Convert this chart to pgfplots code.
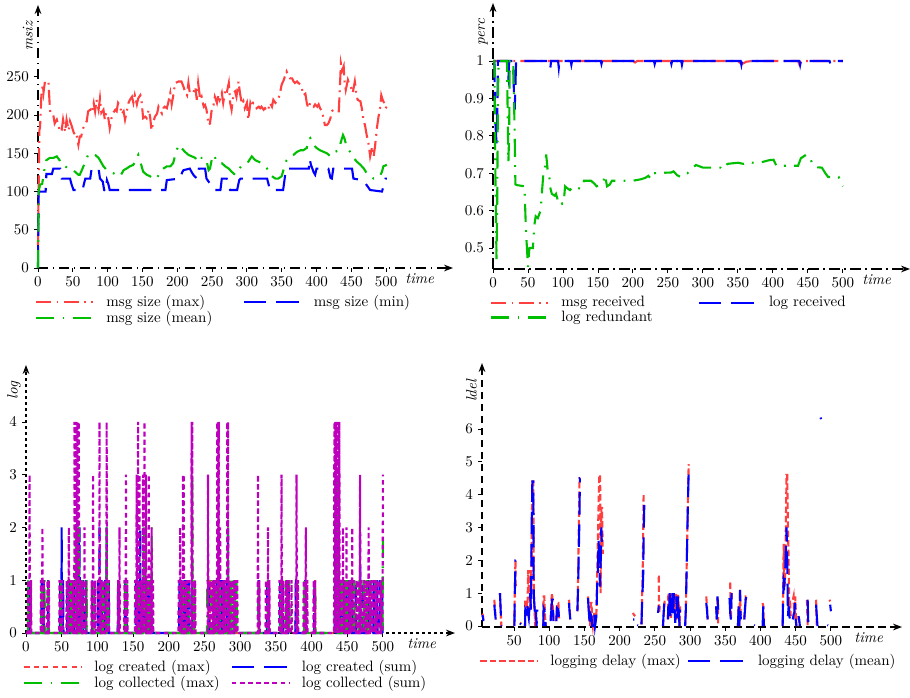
\documentclass[border=0pt]{standalone}
\usepackage{pgfplots}
\pgfplotsset{compat=1.18}
\usetikzlibrary{arrows.meta}

\definecolor{cR}{RGB}{255,64,64}
\definecolor{cG}{RGB}{0,190,0}
\definecolor{cB}{RGB}{0,0,255}
\definecolor{cM}{RGB}{190,0,190}

\pgfplotsset{
  panel/.style={
    scale only axis, axis lines=left, enlargelimits=false, clip=false,
    tick align=outside, major tick length=2.5pt,
    tick style={black, line width=0.6pt, solid},
    xlabel={\textit{time}},
    every axis x label/.style={at={(axis description cs:1,0)}, anchor=north east, xshift=-9pt},
    every axis y label/.style={at={(axis description cs:0,0.96)}, rotate=90, anchor=south east},
    legend columns=2, legend cell align=left,
    legend image code/.code={\draw[#1] (0pt,0pt) -- (38pt,0pt);},
    legend style={at={(axis description cs:0,0)}, anchor=north west, xshift=-2pt, yshift=-17.5pt,
      draw=none, fill=none, inner sep=0pt, row sep=0.5pt,
      nodes={inner xsep=2pt, inner ysep=0.5pt},
      /tikz/every odd column/.append style={column sep=6pt},
      /tikz/every even column/.append style={column sep=0pt}},
  },
  lw/.style={line width=1.4pt},
  sR/.style={cR, lw, dash pattern=on 10pt off 3.5pt on 1.2pt off 3.5pt},
  sB/.style={cB, lw, dash pattern=on 15pt off 6.5pt},
  sG/.style={cG, lw, dash pattern=on 12pt off 5.5pt on 1.2pt off 5.5pt},
  sRd/.style={cR, lw, dash pattern=on 3.5pt off 2.8pt},
  sM/.style={cM, lw, dash pattern=on 3pt off 2.4pt},
  sRe/.style={cR, lw, dash pattern=on 4.3pt off 2pt},
}

\begin{document}
\begin{tikzpicture}
\useasboundingbox (0pt,0pt) rectangle (606.67pt,-465.33pt);

% ---------------- top left: message size
\begin{axis}[panel,
  at={(25.33pt,-178.67pt)}, anchor=south west,
  width=276.67pt, height=175.33pt,
  xmin=0, xmax=596, ymin=0, ymax=344,
  xtick={0,50,...,500}, ytick={0,50,...,250},
  axis line style={line width=0.9pt, dash pattern=on 7pt off 3pt on 1pt off 3pt, -{Stealth[length=6pt,width=4.5pt]}},
  ylabel={\textit{msiz}},
]
\addplot[sR] coordinates {
(0,30)(1,110)(2,180)(3,185)(5,229)(7,240)(8,230)(10,244)(13,244)(15,244)(17,210)(18,202)(22,200)(24,189)(27,194)(29,187)(32,178)(34,180)(36,194)(39,178)(41,194)(44,180)(46,192)(48,187)(51,178)(53,174)(55,176)(58,161)(60,172)(62,172)(65,183)(67,187)(70,192)(72,205)(75,207)(77,203)(80,216)(82,205)(84,220)(87,207)(89,222)(91,203)(94,207)(96,194)(98,203)(101,196)(103,183)(106,198)(108,203)(111,207)(113,205)(115,216)(118,212)(120,201)(123,205)(125,194)(128,207)(130,216)(132,220)(135,224)(137,216)(139,226)(142,214)(144,222)(147,226)(149,216)(151,196)(154,198)(156,196)(159,207)(161,198)(163,180)(166,192)(168,198)(171,202)(173,211)(175,207)(178,202)(180,209)(182,211)(185,209)(187,216)(190,229)(192,214)(194,224)(197,242)(202,244)(206,244)(209,237)(211,231)(214,226)(216,242)(218,229)(223,229)(226,237)(228,220)(230,242)(233,220)(235,224)(238,211)(240,213)(242,207)(245,187)(247,189)(250,211)(252,213)(254,224)(257,216)(259,226)(261,220)(264,229)(266,216)(269,233)(271,229)(274,242)(276,216)(278,207)(281,229)(283,231)(285,224)(288,244)(290,229)(293,214)(295,218)(297,209)(300,216)(302,194)(305,216)(307,211)(309,216)(312,214)(314,209)(317,211)(319,209)(321,211)(324,207)(326,209)(329,205)(331,209)(333,216)(336,211)(338,220)(341,216)(343,218)(345,220)(348,231)(350,240)(353,246)(355,252)(357,257)(360,250)(362,248)(365,248)(367,244)(369,242)(372,244)(374,242)(377,240)(379,235)(381,226)(384,228)(386,216)(388,209)(391,216)(393,214)(396,211)(398,214)(401,211)(403,214)(405,209)(408,205)(410,196)(412,187)(415,187)(417,189)(420,196)(422,205)(424,207)(427,205)(429,205)(432,205)(434,246)(435,268)(437,259)(439,264)(440,246)(442,233)(445,246)(447,240)(450,235)(452,229)(455,244)(457,229)(459,220)(463,218)(465,209)(467,196)(470,185)(472,174)(475,161)(477,146)(480,159)(482,146)(484,159)(487,185)(489,198)(491,207)(493,226)(495,220)(497,216)(499,209)(501,211)
};
\addlegendentry{\makebox[89pt][l]{msg size (max)}}
\addplot[sB] coordinates {
(0,0)(1,100)(11,100)(12,123)(20,123)(22,130)(32,130)(34,117)(46,117)(48,110)(51,102)(64,102)(66,110)(68,117)(75,117)(77,130)(87,130)(89,117)(93,113)(95,102)(97,100)(99,115)(101,110)(103,102)(183,102)(185,115)(204,117)(207,125)(209,128)(218,130)(221,125)(223,122)(228,117)(231,130)(240,130)(242,117)(245,113)(250,106)(254,102)(262,102)(264,117)(271,117)(274,110)(276,102)(286,102)(289,115)(291,117)(329,117)(331,110)(333,102)(352,102)(354,115)(356,130)(389,130)(390,143)(392,135)(396,125)(398,122)(400,130)(417,130)(420,118)(422,117)(424,130)(451,130)(453,117)(465,115)(470,111)(477,102)(494,100)(497,110)(499,117)(501,117)
};
\addlegendentry{msg size (min)}
\addplot[sG] coordinates {
(0,0)(1,100)(3,109)(6,110)(10,133)(12,141)(17,144)(22,144)(27,146)(31,141)(34,135)(39,133)(44,130)(48,130)(53,126)(58,122)(60,122)(63,128)(68,139)(72,148)(77,150)(82,148)(87,144)(89,141)(94,133)(99,128)(103,126)(108,124)(113,122)(118,120)(123,128)(127,130)(132,133)(137,135)(142,144)(144,148)(147,139)(151,126)(156,122)(161,120)(166,117)(171,117)(175,126)(180,130)(185,133)(190,133)(194,137)(199,154)(202,160)(204,161)(206,157)(211,152)(216,148)(221,146)(226,144)(228,139)(233,144)(238,144)(240,144)(242,141)(245,128)(247,130)(250,144)(252,148)(255,143)(257,139)(259,137)(264,137)(269,133)(274,130)(278,126)(283,122)(288,128)(293,135)(297,137)(302,139)(307,146)(312,141)(317,139)(321,137)(326,133)(331,128)(336,120)(341,117)(345,117)(350,120)(353,130)(357,141)(362,146)(367,148)(372,152)(377,154)(381,154)(386,157)(388,168)(391,170)(393,165)(396,161)(400,157)(405,154)(410,152)(415,150)(420,146)(423,150)(427,152)(432,154)(435,165)(438,174)(440,170)(442,163)(445,157)(448,152)(453,144)(458,139)(463,135)(468,130)(472,124)(477,120)(482,117)(487,117)(491,120)(494,126)(496,133)(501,135)
};
\addlegendentry{\makebox[89pt][l]{msg size (mean)}}
\end{axis}

% ---------------- top right: percentages
\begin{axis}[panel,
  at={(328.67pt,-179.33pt)}, anchor=south west,
  width=278pt, height=177.33pt,
  xmin=0, xmax=596, ymin=0.444, ymax=1.155,
  xtick={0,50,...,500}, ytick={0.5,0.6,0.7,0.8,0.9,1},
  axis line style={line width=0.9pt, dash pattern=on 7pt off 3pt on 1pt off 3pt, -{Stealth[length=6pt,width=4.5pt]}},
  ylabel={\textit{perc}},
]
\addplot[sR] coordinates {
(0,1)(200,1)(203,0.996)(206,1)(350,1)(355,0.992)(358,0.994)(362,0.998)(370,1)(436,1)(438,0.99)(441,1)(500,1)
};
\addlegendentry{\makebox[89pt][l]{msg received}}
\addplot[sB] coordinates {
(0,1)(2,1)(3,0.85)(5,0.78)(6,0.84)(7,1)(20,1)(21,0.96)(22,0.95)(23,1)(29,1)(30,0.9)(31,0.87)(32,0.93)(33,1)(81,1)(82,0.982)(83,1)(93,1)(94,0.982)(95,1)(111,1)(112,0.99)(113,1)(128,1)(129,0.99)(130,1)(154,1)(155,0.992)(156,1)(230,1)(231,0.992)(232,1)(254,1)(255,0.992)(256,1)(269,1)(270,0.99)(271,1)(354,1)(355,0.99)(356,1)(438,1)(439,0.99)(440,1)(481,1)(482,0.993)(483,1)(500,1)
};
\addlegendentry{log received}
\addplot[sG] coordinates {
(0,1)(2,1)(3,0.75)(5,0.47)(6,0.62)(7,0.9)(8,1)(20,1)(21,0.85)(22,0.73)(23,0.8)(24,1)(29,1)(30,0.9)(31,0.8)(32,0.67)(35,0.668)(45,0.665)(47,0.55)(50,0.45)(52,0.5)(57,0.5)(59,0.56)(61,0.585)(64,0.58)(66,0.59)(68,0.6)(70,0.65)(72,0.7)(74,0.71)(76,0.75)(78,0.71)(80,0.7)(82,0.66)(84,0.645)(88,0.64)(90,0.645)(93,0.625)(96,0.63)(99,0.618)(101,0.62)(103,0.665)(106,0.66)(110,0.655)(115,0.665)(120,0.662)(125,0.658)(128,0.665)(130,0.68)(140,0.68)(145,0.672)(148,0.665)(155,0.67)(158,0.68)(160,0.695)(163,0.665)(167,0.67)(170,0.68)(200,0.68)(212,0.684)(218,0.688)(222,0.693)(226,0.685)(230,0.7)(255,0.702)(258,0.705)(263,0.695)(268,0.69)(272,0.697)(278,0.7)(284,0.712)(290,0.722)(300,0.715)(325,0.715)(328,0.71)(335,0.725)(350,0.728)(358,0.725)(365,0.73)(375,0.727)(385,0.73)(395,0.735)(401,0.736)(405,0.72)(430,0.72)(436,0.72)(440,0.74)(448,0.75)(453,0.74)(458,0.72)(462,0.716)(470,0.715)(475,0.7)(479,0.69)(494,0.69)(500,0.665)
};
\addlegendentry{\makebox[89pt][l]{log redundant}}
\end{axis}

% ---------------- bottom left: logs
\begin{axis}[panel,
  at={(17.33pt,-422pt)}, anchor=south west,
  width=286pt, height=178.67pt,
  xmin=0, xmax=601, ymin=0, ymax=5.08,
  xtick={0,50,...,500}, ytick={0,1,2,3,4},
  axis line style={line width=0.9pt, dash pattern=on 2pt off 2pt, -{Stealth[length=6pt,width=4.5pt]}},
  ylabel={\textit{log}},
]
\addplot[sRd] coordinates {
(0,0)(3.5,0)(4,1)(4.5,0)(22.5,0)(23,1)(23.5,0)(30.5,0)(31,1)(31.5,0)(48.5,0)(49,1)(49.5,0)(58.5,0)(59,1)(59.5,0)(63.5,0)(64,1)(64.5,0)(74.5,0)(75,0.5)(75.5,0)(77.5,0)(78,1)(78.5,0)(92.5,0)(93,1)(93.5,0)(102.5,0)(103,1)(103.5,0)(111.5,0)(112,1)(112.5,0)(129.5,0)(130,1)(130.5,0)(139.5,0)(140,0.7)(140.5,0)(156.5,0)(157,1)(157.5,0)(162.5,0)(163,0.8)(163.5,0)(169.5,0)(170,1)(170.5,0)(174.5,0)(175,1)(175.5,0)(217.5,0)(218,1)(218.5,0)(224.5,0)(225,0.8)(225.5,0)(232.5,0)(233,1)(233.5,0)(257.5,0)(258,1)(258.5,0)(265.5,0)(266,1)(266.5,0)(270.5,0)(271,1)(271.5,0)(277.5,0)(278,1)(278.5,0)(283.5,0)(284,1)(284.5,0)(291.5,0)(292,1)(292.5,0)(325.5,0)(326,1)(326.5,0)(338.5,0)(339,1)(339.5,0)(356.5,0)(357,0.5)(357.5,0)(365.5,0)(366,1)(366.5,0)(377.5,0)(378,1)(378.5,0)(391.5,0)(392,1)(392.5,0)(404.5,0)(405,1)(405.5,0)(434.5,0)(435,0.7)(435.5,0)(436.5,0)(437,1)(437.5,0)(444.5,0)(445,1)(445.5,0)(449.5,0)(450,0.8)(450.5,0)(457.5,0)(458,1)(458.5,0)(465.5,0)(466,0.3)(466.5,0)(473.5,0)(474,1)(474.5,0)(480.5,0)(481,1)(481.5,0)(489.5,0)(490,1)(490.5,0)(496.5,0)(497,1)(497.5,0)(500,0)
};
\addlegendentry{\makebox[89pt][l]{log created (max)}}
\addplot[sB] coordinates {
(0,0)(3.5,0)(4,1)(4.5,0)(21.5,0)(22,1)(22.5,0)(24.5,0)(25,1)(25.5,0)(30.5,0)(31,1)(31.5,0)(47.5,0)(48,1)(48.5,0)(49.5,0)(50,2)(50.5,0)(51.5,0)(52,1)(52.5,0)(57.5,0)(58,1)(58.5,0)(61.5,0)(62,1)(62.5,0)(66.5,0)(67,1)(67.5,0)(71.5,0)(72,1)(72.5,0)(73.5,0)(74,2)(74.5,0)(75,2)(75.5,0)(76,1)(76.5,0)(77,1)(77.5,0)(78,1)(78.5,0)(79.5,0)(80,1)(80.5,0)(83.5,0)(84,1)(84.5,0)(92.5,0)(93,1)(93.5,0)(100.5,0)(101,1)(101.5,0)(102.5,0)(103,2)(103.5,0)(105.5,0)(106,1)(106.5,0)(110.5,0)(111,1)(111.5,0)(112.5,0)(113,2)(113.5,0)(115.5,0)(116,1)(116.5,0)(128.5,0)(129,1)(129.5,0)(138.5,0)(139,1)(139.5,0)(140.5,0)(141,1)(141.5,0)(153.5,0)(154,1)(154.5,0)(155.5,0)(156,1)(156.5,0)(157.5,0)(158,1)(158.5,0)(159.5,0)(160,2)(160.5,0)(161.5,0)(162,1)(162.5,0)(163.5,0)(164,1)(164.5,0)(165,1)(165.5,0)(166,1)(166.5,0)(167,1)(167.5,0)(168,1)(168.5,0)(169,1)(169.5,0)(170.5,0)(171,1)(171.5,0)(172.5,0)(173,1)(173.5,0)(174.5,0)(175,1)(175.5,0)(214.5,0)(215,1)(215.5,0)(218.5,0)(219,1)(219.5,0)(221.5,0)(222,1)(222.5,0)(224.5,0)(225,1)(225.5,0)(227.5,0)(228,1)(228.5,0)(231.5,0)(232,1)(232.5,0)(255.5,0)(256,1)(256.5,0)(262.5,0)(263,1)(263.5,0)(266.5,0)(267,1)(267.5,0)(268.5,0)(269,1)(269.5,0)(270,2)(270.5,0)(271,1)(271.5,0)(272.5,0)(273,1)(273.5,0)(274.5,0)(275,1)(275.5,0)(276.5,0)(277,1)(277.5,0)(280.5,0)(281,1)(281.5,0)(282.5,0)(283,2)(283.5,0)(285.5,0)(286,1)(286.5,0)(291.5,0)(292,1)(292.5,0)(325.5,0)(326,1)(326.5,0)(337.5,0)(338,1)(338.5,0)(355.5,0)(356,1)(356.5,0)(359.5,0)(360,1)(360.5,0)(367.5,0)(368,1)(368.5,0)(377.5,0)(378,1)(378.5,0)(390.5,0)(391,1)(391.5,0)(403.5,0)(404,1)(404.5,0)(432.5,0)(433,2)(433.5,0)(434,3)(434.5,0)(435.5,0)(436,2)(436.5,0)(437,1)(437.5,0)(438,1)(438.5,0)(440.5,0)(441,1)(441.5,0)(444.5,0)(445,1)(445.5,0)(447.5,0)(448,1)(448.5,0)(451.5,0)(452,1)(452.5,0)(455.5,0)(456,1)(456.5,0)(461.5,0)(462,1)(462.5,0)(467.5,0)(468,2)(468.5,0)(471.5,0)(472,1)(472.5,0)(478.5,0)(479,1)(479.5,0)(486.5,0)(487,1)(487.5,0)(491.5,0)(492,1)(492.5,0)(495.5,0)(496,1)(496.5,0)(498.5,0)(499,1)(499.5,0)(500,0)
};
\addlegendentry{log created (sum)}
\addplot[sG] coordinates {
(0,0)(2.5,0)(3,1)(3.5,0)(21.5,0)(22,1)(22.5,0)(25.5,0)(26,1)(26.5,0)(30.5,0)(31,1)(31.5,0)(48.5,0)(49,1)(49.5,0)(58.5,0)(59,1)(59.5,0)(62.5,0)(63,1)(63.5,0)(69.5,0)(70,2)(70.5,0)(71.5,0)(72,2)(72.5,0)(73.5,0)(74,2)(74.5,0)(75.5,0)(76,1)(76.5,0)(78.5,0)(79,1)(79.5,0)(84.5,0)(85,1)(85.5,0)(94.5,0)(95,1)(95.5,0)(104.5,0)(105,1)(105.5,0)(107.5,0)(108,1)(108.5,0)(112.5,0)(113,2)(113.5,0)(114.5,0)(115,1)(115.5,0)(129.5,0)(130,1)(130.5,0)(138.5,0)(139,1)(139.5,0)(140.5,0)(141,1)(141.5,0)(154.5,0)(155,1)(155.5,0)(157.5,0)(158,1)(158.5,0)(162.5,0)(163,1)(163.5,0)(164.5,0)(165,2)(165.5,0)(167.5,0)(168,1)(168.5,0)(170.5,0)(171,1)(171.5,0)(173.5,0)(174,1)(174.5,0)(175.5,0)(176,2)(176.5,0)(216.5,0)(217,1)(217.5,0)(219.5,0)(220,1)(220.5,0)(223.5,0)(224,1)(224.5,0)(227.5,0)(228,1)(228.5,0)(232.5,0)(233,3)(233.5,0)(235.5,0)(236,1)(236.5,0)(253.5,0)(254,1)(254.5,0)(259.5,0)(260,1)(260.5,0)(264.5,0)(265,1)(265.5,0)(267.5,0)(268,1)(268.5,0)(271.5,0)(272,1)(272.5,0)(278.5,0)(279,1)(279.5,0)(282.5,0)(283,2)(283.5,0)(286.5,0)(287,1)(287.5,0)(290.5,0)(291,1)(291.5,0)(294.5,0)(295,1)(295.5,0)(325.5,0)(326,1)(326.5,0)(338.5,0)(339,1)(339.5,0)(356.5,0)(357,1)(357.5,0)(363.5,0)(364,1)(364.5,0)(368.5,0)(369,1)(369.5,0)(379.5,0)(380,1)(380.5,0)(389.5,0)(390,1)(390.5,0)(404.5,0)(405,1)(405.5,0)(433.5,0)(434,2)(434.5,0)(435.5,0)(436,3)(436.5,0)(437.5,0)(438,2)(438.5,0)(439.5,0)(440,1)(440.5,0)(442.5,0)(443,1)(443.5,0)(446.5,0)(447,1)(447.5,0)(449.5,0)(450,1)(450.5,0)(454.5,0)(455,1)(455.5,0)(459.5,0)(460,1)(460.5,0)(466.5,0)(467,1)(467.5,0)(472.5,0)(473,1)(473.5,0)(477.5,0)(478,1)(478.5,0)(482.5,0)(483,1)(483.5,0)(489.5,0)(490,1)(490.5,0)(497.5,0)(498,1)(498.5,0)(499.5,0)(500,2)
};
\addlegendentry{\makebox[89pt][l]{log collected (max)}}
\addplot[sM] coordinates {
(0,0)(2.5,0)(3,1)(3.5,0)(4.5,0)(5,3)(5.5,0)(6.5,0)(7,1)(7.5,0)(20.5,0)(21,1)(21.5,0)(22.5,0)(23,2)(23.5,0)(24.5,0)(25,1)(25.5,0)(29.5,0)(30,1)(30.5,0)(31.5,0)(32,1)(32.5,0)(46.5,0)(47,1)(47.5,0)(48.5,0)(49,1)(49.5,0)(50.5,0)(51,1)(51.5,0)(56.5,0)(57,1)(57.5,0)(59.5,0)(60,2)(60.5,0)(62.5,0)(63,1)(63.5,0)(65.5,0)(66,1)(66.5,0)(67.5,0)(68,4)(68.5,0)(69,4)(69.5,0)(70,4)(70.5,0)(71.5,0)(72,4)(72.5,0)(73,4)(73.5,0)(74,4)(74.5,0)(75.5,0)(76,1)(76.5,0)(77.5,0)(78,1)(78.5,0)(79.5,0)(80,1)(80.5,0)(81.5,0)(82,2)(82.5,0)(83.5,0)(84,1)(84.5,0)(91.5,0)(92,1)(92.5,0)(93.5,0)(94,3)(94.5,0)(96.5,0)(97,1)(97.5,0)(100.5,0)(101,1)(101.5,0)(102.5,0)(103,4)(103.5,0)(104.5,0)(105,1)(105.5,0)(107.5,0)(108,1)(108.5,0)(109.5,0)(110,1)(110.5,0)(112.5,0)(113,4)(113.5,0)(115.5,0)(116,1)(116.5,0)(128.5,0)(129,1)(129.5,0)(130.5,0)(131,2)(131.5,0)(137.5,0)(138,1)(138.5,0)(139.5,0)(140,3)(140.5,0)(141.5,0)(142,1)(142.5,0)(152.5,0)(153,1)(153.5,0)(154.5,0)(155,3)(155.5,0)(156.5,0)(157,4)(157.5,0)(158,3)(158.5,0)(159,3)(159.5,0)(160.5,0)(161,1)(161.5,0)(162.5,0)(163,1)(163.5,0)(164,3)(164.5,0)(165.5,0)(166,4)(166.5,0)(167.5,0)(168,3)(168.5,0)(169.5,0)(170,1)(170.5,0)(171.5,0)(172,3)(172.5,0)(173.5,0)(174,1)(174.5,0)(175.5,0)(176,2)(176.5,0)(177.5,0)(178,1)(178.5,0)(213.5,0)(214,1)(214.5,0)(215.5,0)(216,2)(216.5,0)(217.5,0)(218,1)(218.5,0)(219.5,0)(220,3)(220.5,0)(221,3)(221.5,0)(222.5,0)(223,1)(223.5,0)(225.5,0)(226,1)(226.5,0)(227.5,0)(228,1)(228.5,0)(231.5,0)(232,4)(232.5,0)(233,4)(233.5,0)(234.5,0)(235,1)(235.5,0)(236.5,0)(237,1)(237.5,0)(254.5,0)(255,3)(255.5,0)(257.5,0)(258,1)(258.5,0)(259.5,0)(260,1)(260.5,0)(261.5,0)(262,1)(262.5,0)(263.5,0)(264,1)(264.5,0)(265.5,0)(266,1)(266.5,0)(267.5,0)(268,4)(268.5,0)(269,4)(269.5,0)(270,4)(270.5,0)(271.5,0)(272,2)(272.5,0)(273.5,0)(274,1)(274.5,0)(275.5,0)(276,1)(276.5,0)(277.5,0)(278,1)(278.5,0)(279.5,0)(280,1)(280.5,0)(281.5,0)(282,4)(282.5,0)(283,4)(283.5,0)(284.5,0)(285,1)(285.5,0)(287.5,0)(288,1)(288.5,0)(289.5,0)(290,1)(290.5,0)(292.5,0)(293,1)(293.5,0)(295.5,0)(296,1)(296.5,0)(324.5,0)(325,3)(325.5,0)(326.5,0)(327,1)(327.5,0)(335.5,0)(336,1)(336.5,0)(338.5,0)(339,2)(339.5,0)(340.5,0)(341,1)(341.5,0)(354.5,0)(355,1)(355.5,0)(357.5,0)(358,3)(358.5,0)(359.5,0)(360,1)(360.5,0)(363.5,0)(364,1)(364.5,0)(365.5,0)(366,1)(366.5,0)(367.5,0)(368,1)(368.5,0)(371.5,0)(372,1)(372.5,0)(378.5,0)(379,3)(379.5,0)(380.5,0)(381,1)(381.5,0)(388.5,0)(389,1)(389.5,0)(391.5,0)(392,2)(392.5,0)(393.5,0)(394,1)(394.5,0)(402.5,0)(403,1)(403.5,0)(404.5,0)(405,1)(405.5,0)(431.5,0)(432,4)(432.5,0)(433,4)(433.5,0)(434,4)(434.5,0)(435,4)(435.5,0)(436,4)(436.5,0)(437,4)(437.5,0)(438,4)(438.5,0)(439,4)(439.5,0)(440,1)(440.5,0)(441.5,0)(442,1)(442.5,0)(443.5,0)(444,2)(444.5,0)(445.5,0)(446,1)(446.5,0)(448.5,0)(449,2)(449.5,0)(450.5,0)(451,1)(451.5,0)(452.5,0)(453,1)(453.5,0)(454.5,0)(455,1)(455.5,0)(456.5,0)(457,2)(457.5,0)(458.5,0)(459,1)(459.5,0)(462.5,0)(463,1)(463.5,0)(465.5,0)(466,1)(466.5,0)(467.5,0)(468,3)(468.5,0)(469.5,0)(470,1)(470.5,0)(473.5,0)(474,1)(474.5,0)(476.5,0)(477,1)(477.5,0)(479.5,0)(480,2)(480.5,0)(481.5,0)(482,1)(482.5,0)(484.5,0)(485,1)(485.5,0)(487.5,0)(488,1)(488.5,0)(490.5,0)(491,1)(491.5,0)(493.5,0)(494,1)(494.5,0)(496.5,0)(497,1)(497.5,0)(499.5,0)(500,3)
};
\addlegendentry{log collected (sum)}
\end{axis}

% ---------------- bottom right: logging delay
\begin{axis}[panel,
  at={(321.33pt,-418pt)}, anchor=south west,
  width=280pt, height=176pt,
  xmin=4.5, xmax=601, ymin=-0.03, ymax=8.01,
  xtick={50,100,...,500}, ytick={0,1,...,6},
  axis line style={line width=0.9pt, dash pattern=on 5pt off 3pt, -{Stealth[length=6pt,width=4.5pt]}},
  ylabel={\textit{ldel}},
  unbounded coords=jump,
]
\addplot[sRe] coordinates {
(5,0.38)(6,0.3)(6.5,0.12)(7,nan)
(22,0.8)(23,0.5)(24,0.2)(25,nan)
(30,1.0)(31,0.5)(32,0.0)(33,nan)
(50.5,0.0)(51,1.0)(52,2.0)(52.4,1.2)(53,nan)
(58.5,0.1)(60,0.08)(61,nan)
(65.6,0.0)(66,0.8)(67,0.5)(68,0.8)(69,0.3)(70,1.7)(71,1.0)(72,1.7)(73,0.5)(74,1.0)(75,2.5)(76,4.4)(77.4,4.4)(78,1.0)(79,0.6)(80,0.0)(81,0.5)(82,0.0)(83,nan)
(91.5,0.0)(92,0.9)(93,0.9)(94,0.3)(95,0.0)(96,nan)
(102,0.2)(103,0.8)(104,1.0)(106,0.15)(107,nan)
(110,0.15)(111,0.7)(113,0.7)(114,0.15)(115,nan)
(128,0.8)(129,0.5)(130,0.2)(131,nan)
(140,0.45)(141,1.5)(142,3.0)(143,4.5)(144,4.5)(145,nan)
(155,0.9)(156,0.6)(157,0.2)(158,0.0)(159,0.7)(160,0.7)(161,0.2)(162,0.0)(164,0.4)(165,0.0)(167,0.4)(168,1.5)(169,2.6)(171,4.6)(172.3,4.6)(173,1.0)(174,3.6)(175,3.6)(176,2.2)(177,nan)
(219,0.4)(220,0.35)(222,0.3)(223,nan)
(231,0.05)(232,1.0)(233,2.0)(234,4.0)(235,4.0)(236,nan)
(254.5,1.5)(255.5,1.5)(256,0.4)(257,0.6)(258,nan)
(261.5,0.0)(263,0.5)(264,0.8)(265,nan)
(268.6,0.2)(269,0.9)(270,1.0)(271,0.3)(272,1.0)(273,0.25)(275,1.0)(276,0.5)(277,1.0)(279,0.2)(280,1.0)(282,0.2)(283,0.95)(284,0.6)(285,0.0)(286,0.6)(287,nan)
(293,0.0)(294,0.5)(295,1.6)(296,2.7)(297,3.9)(298,4.9)(299.5,4.9)(300,nan)
(323,0.9)(324,0.6)(325,0.2)(326,nan)
(337,0.6)(338,0.2)(339,0.9)(340,0.0)(341,nan)
(356,1.3)(357,1.3)(358,0.2)(359,1.0)(360,nan)
(368,0.0)(369,0.6)(370,0.0)(371,1.1)(372,0.3)(373,nan)
(377,0.2)(379,0.9)(380,0.9)(381,nan)
(403,0.7)(404,0.6)(405,0.0)(406,nan)
(431.5,0.0)(433,2.5)(434,1.2)(435,1.4)(437,4.6)(438,4.6)(439,3.0)(440,2.0)(441,0.3)(442,0.8)(443,0.3)(444,nan)
(446,0.8)(447,0.9)(448,0.2)(449,0.4)(449.5,0.9)(450,0.4)(451,0.0)(452,nan)
(454,0.3)(455,0.0)(456,nan)
(466,0.8)(467,0.0)(468,nan)
(479,0.8)(480,0.0)(481,nan)
(498,0.8)(499,0.75)
};
\addlegendentry{\makebox[89pt][l]{logging delay (max)}}
\addplot[sB] coordinates {
(5,0.33)(6,0.25)(6.5,0.15)(7,nan)
(22,0.65)(23,0.4)(24,0.2)(25,nan)
(30,1.0)(31,0.5)(32,0.0)(33,nan)
(50.5,0.0)(51,0.8)(52,2.0)(52.4,2.0)(53,nan)
(58.5,0.08)(60,0.05)(61,nan)
(65.6,0.0)(66,0.5)(67,0.45)(68,0.3)(69,0.6)(70,0.4)(71,0.25)(72,0.6)(73,1.0)(74,0.5)(75,3.0)(76,4.4)(77.4,4.4)(78,1.0)(79,0.6)(80,0.3)(81,0.5)(82,0.0)(83,0.5)(84,nan)
(91.5,0.0)(92,0.55)(93,0.5)(94,0.3)(95,0.0)(96,nan)
(102,0.15)(104,0.8)(105,0.8)(106,0.15)(107,nan)
(110,0.15)(111,0.55)(113,0.5)(114,0.15)(115,nan)
(128,0.7)(129,0.4)(130,0.2)(131,nan)
(140,0.45)(141,1.2)(142,2.3)(143,3.4)(143.5,4.5)(144,4.5)(145,nan)
(155,0.85)(156,0.5)(157,0.2)(158,0.0)(159,0.35)(160,0.3)(161,0.0)(163,0.0)(164,0.35)(165,0.0)(167,0.3)(168,1.2)(169,1.6)(170,2.6)(171,2.2)(172,1.2)(173,1.9)(174,3.0)(175,2.3)(176,nan)
(219,0.2)(221,0.2)(222,nan)
(225,0.03)(226,0.02)(227,nan)
(231,0.05)(232,0.8)(233,1.3)(233.5,1.6)(234,2.6)(235,3.7)(236,nan)
(254.5,0.4)(255.5,0.6)(256,0.6)(257,nan)
(261.5,0.0)(263,0.6)(264,0.8)(265,nan)
(268.6,0.2)(269,0.6)(270,0.3)(271,1.0)(272,0.3)(273,1.0)(274,0.4)(275,1.0)(276,0.3)(277,1.0)(279,0.1)(281,0.9)(282,0.2)(283,0.9)(285,0.0)(286,0.5)(287,nan)
(293,0.0)(294,0.5)(295,1.6)(296,2.7)(297,3.8)(298,4.7)(299.5,4.9)(300,nan)
(323,0.7)(324,0.5)(325,0.2)(326,nan)
(337,0.6)(338,0.2)(339,0.9)(340,0.5)(341,nan)
(356,0.85)(357,0.4)(358,0.2)(359,1.0)(360,nan)
(368,0.0)(369,0.6)(370,0.0)(371,1.1)(372,0.2)(373,nan)
(377,0.2)(379,0.8)(380,0.9)(381,nan)
(391,0.03)(392,0.02)(393,nan)
(403,0.0)(404,0.6)(405,0.0)(406,nan)
(431.5,0.0)(432,0.7)(433,1.4)(434,1.3)(435,1.6)(436,2.3)(437,3.0)(438,2.0)(439,0.3)(440,0.6)(441,0.3)(442,0.2)(443,nan)
(446,0.2)(447,0.35)(448,0.4)(449,0.7)(450,0.2)(451,0.0)(452,nan)
(454,0.3)(455,0.2)(456,0.0)(457,nan)
(467,0.8)(468,0.0)(469,nan)
(479,0.65)(480,0.3)(481,0.0)(482,nan)
(485.3,6.35)(486,6.3)(487,nan)
(495,0.03)(496,0.02)(497,nan)
(499,0.65)(500,0.45)
};
\addlegendentry{logging delay (mean)}
\end{axis}
\end{tikzpicture}
\end{document}
